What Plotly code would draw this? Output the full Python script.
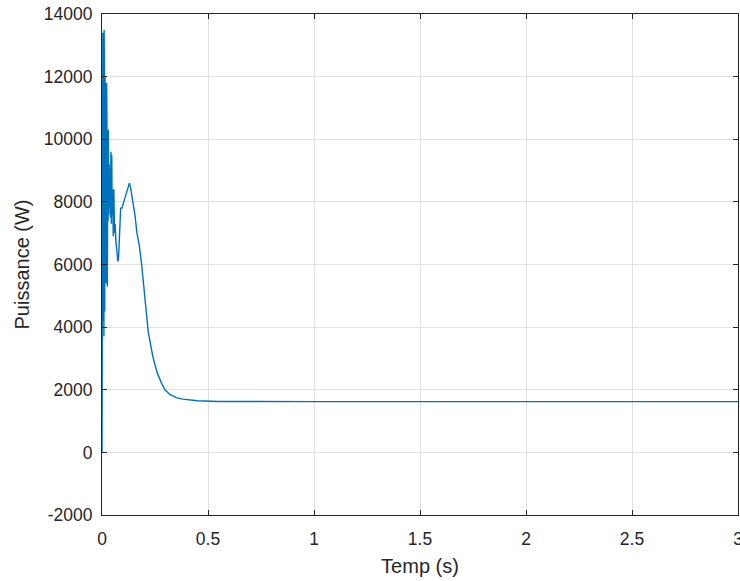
import plotly.graph_objects as go

# Time (s) and power (W)
t_osc = [0.000, 0.002, 0.003, 0.004, 0.005, 0.006, 0.007, 0.008, 0.009, 0.010,
         0.011, 0.012, 0.013, 0.014, 0.015, 0.016, 0.017, 0.018, 0.019, 0.020,
         0.021, 0.022, 0.023, 0.024, 0.025, 0.026, 0.027, 0.028, 0.029, 0.030,
         0.032, 0.034, 0.036, 0.038, 0.040, 0.042, 0.044, 0.046, 0.048, 0.050,
         0.053, 0.056, 0.059, 0.062, 0.066, 0.070, 0.075, 0.078, 0.082, 0.088,
         0.094, 0.098, 0.102, 0.108, 0.115, 0.122, 0.129]
p_osc = [0, 9000, 3600, 13400, 4200, 13000, 5000, 12500, 3700, 13500,
         5500, 11800, 4500, 12000, 5300, 11500, 6000, 11800, 5400, 11000,
         6500, 11800, 7000, 10000, 5300, 9800, 7200, 10200, 7400, 10300,
         7600, 9200, 7800, 9000, 7500, 9600, 7300, 9500, 7600, 8400,
         6900, 8400, 7000, 7300, 6700, 6300, 6100, 6200, 7000, 7800,
         7800, 7900, 8000, 8100, 8300, 8500, 8600]

t_decay = [0.135, 0.145, 0.155, 0.165, 0.176, 0.187, 0.200, 0.218, 0.240, 0.260,
           0.280, 0.297, 0.320, 0.350, 0.380, 0.450, 0.550, 0.700, 1.0, 2.0, 3.0]
p_decay = [8450, 8050, 7600, 7000, 6600, 6000, 5000, 3850, 3050, 2550,
           2220, 2000, 1850, 1750, 1700, 1650, 1625, 1620, 1620, 1620, 1620]

t = t_osc + t_decay
p = p_osc + p_decay

x_ticks = [0, 0.5, 1, 1.5, 2, 2.5, 3]
x_tick_labels = ["0", "0.5", "1", "1.5", "2", "2.5", "3"]
y_ticks = [-2000, 0, 2000, 4000, 6000, 8000, 10000, 12000, 14000]
y_tick_labels = ["-2000", "0", "2000", "4000", "6000", "8000", "10000", "12000", "14000"]

FONT = "Liberation Sans, Arial"
TXT = "#262626"

fig = go.Figure()
fig.add_trace(go.Scatter(x=t, y=p, mode="lines",
                         line=dict(color="#0072BD", width=1.4),
                         showlegend=False))

axis_common = dict(showline=True, linecolor=TXT, linewidth=1,
                   mirror="ticks", ticks="inside", ticklen=5,
                   tickcolor=TXT, showgrid=True, gridcolor="#e0e0e0",
                   gridwidth=1, zeroline=False, automargin=False,
                   tickfont=dict(family=FONT, size=17.5, color=TXT))

fig.update_xaxes(range=[0, 3], tickvals=x_ticks, ticktext=x_tick_labels,
                 ticklabeloverflow="allow", ticklabelstandoff=8,
                 title=dict(text="Temp (s)", standoff=10,
                            font=dict(family=FONT, size=20, color=TXT)),
                 **axis_common)
fig.update_yaxes(range=[-2000, 14000], tickvals=y_ticks, ticktext=y_tick_labels,
                 ticklabelstandoff=5,
                 title=dict(text="Puissance (W)", standoff=8,
                            font=dict(family=FONT, size=20, color=TXT)),
                 **axis_common)

fig.update_layout(width=740, height=581,
                  margin=dict(l=102, r=2, t=14, b=66),
                  paper_bgcolor="white", plot_bgcolor="white")

fig.write_html("out.html")
